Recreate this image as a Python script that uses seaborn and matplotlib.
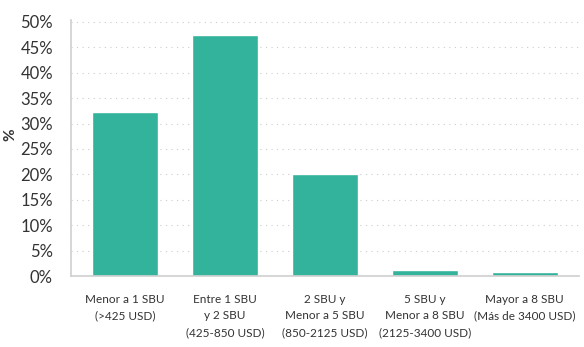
"""Distribución por rango de ingresos"""
import numpy as np
import pandas as pd
import matplotlib
matplotlib.use("Agg")
import matplotlib.pyplot as plt
import seaborn as sns

# datos
categorias = [
    "Menor a 1 SBU\n(>425 USD)",
    "Entre 1 SBU\ny 2 SBU\n(425-850 USD)",
    "2 SBU y\nMenor a 5 SBU\n(850-2125 USD)",
    "5 SBU y\nMenor a 8 SBU\n(2125-3400 USD)",
    "Mayor a 8 SBU\n(Más de 3400 USD)",
]
porcentajes = [32.3, 47.4, 20.1, 1.2, 0.8]
yticks = list(range(0, 55, 5))

COLOR = "#33b39c"

sns.set_theme(style="white")
plt.rcParams["font.family"] = ["Lato", "DejaVu Sans"]

df = pd.DataFrame({"cat": categorias, "pct": porcentajes})

fig = plt.figure(figsize=(5.84, 3.47), dpi=100)
ax = fig.add_axes([0.1216, 0.2046, 0.8694, 0.738])

sns.barplot(data=df, x="cat", y="pct", color=COLOR, saturation=1, width=0.66, ax=ax)

ax.set_xlim(-0.54, 4.54)
ax.set_ylim(0, 50.4)
ax.set_yticks(yticks)
ax.set_yticklabels([f"{t}%" for t in yticks], fontsize=12, color="#333333")
ax.tick_params(axis="x", labelsize=8.5, colors="#333333", pad=7)
ax.tick_params(axis="y", pad=7)
for lab in ax.get_xticklabels():
    lab.set_linespacing(1.6)

ax.grid(axis="y", color="#cccccc", linestyle=(0, (1, 4)), linewidth=0.8)
ax.set_axisbelow(True)
ax.set_xlabel("")
ax.set_ylabel("%", fontsize=11, fontweight="bold", color="#333333")
ax.yaxis.set_label_coords(-0.105, 0.55)

for s in ["top", "right"]:
    ax.spines[s].set_visible(False)
for s in ["left", "bottom"]:
    ax.spines[s].set_color("#cfcfcf")
    ax.spines[s].set_linewidth(1.2)

fig.savefig("out.png", dpi=100)
